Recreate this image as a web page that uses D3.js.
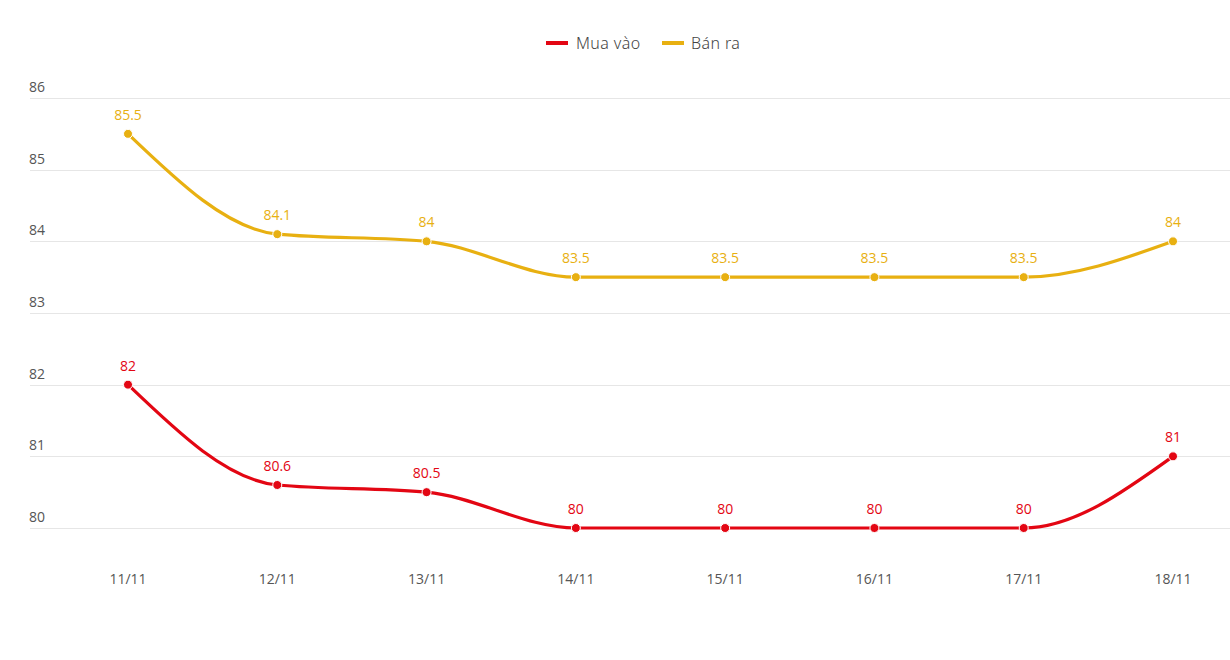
<!DOCTYPE html>
<html><head><meta charset="utf-8">
<script src="https://cdn.jsdelivr.net/npm/d3@7"></script>
<style>body{margin:0;background:#fff}svg{display:block}</style>
</head><body>
<svg id="c" width="1230" height="660"></svg>
<script>
const categories = ["11/11","12/11","13/11","14/11","15/11","16/11","17/11","18/11"];
const muaVao = [82, 80.6, 80.5, 80, 80, 80, 80, 81];
const banRa = [85.5, 84.1, 84, 83.5, 83.5, 83.5, 83.5, 84];
const yTicks = [80, 81, 82, 83, 84, 85, 86];
const seriesNames = ["Mua vào", "Bán ra"];
const colors = ["#e30613", "#e8b011"];

const svg = d3.select("#c");
const x = d3.scalePoint().domain(categories).range([128, 1173]);
const y = d3.scaleLinear().domain([80, 86]).range([528, 98]);
const font = "'Open Sans', sans-serif";

// gridlines + y labels
const g = svg.append("g");
g.selectAll("line").data(yTicks).join("line")
  .attr("x1", 30).attr("x2", 1230)
  .attr("y1", d => Math.round(y(d)) + 0.5).attr("y2", d => Math.round(y(d)) + 0.5)
  .attr("stroke", "#e6e6e6").attr("stroke-width", 1);
g.selectAll("text").data(yTicks).join("text")
  .attr("x", 29).attr("y", d => y(d) - 6)
  .attr("font-family", font).attr("font-size", 14).attr("fill", "#555")
  .text(d => d);

// x labels
svg.append("g").selectAll("text").data(categories).join("text")
  .attr("x", d => x(d)).attr("y", 584).attr("text-anchor", "middle")
  .attr("font-family", font).attr("font-size", 14).attr("fill", "#555")
  .text(d => d);

const line = d3.line().x((d, i) => x(categories[i])).y(d => y(d)).curve(d3.curveMonotoneX);

[muaVao, banRa].forEach((data, si) => {
  const s = svg.append("g");
  s.append("path").datum(data).attr("d", line)
    .attr("fill", "none").attr("stroke", colors[si]).attr("stroke-width", 3.2)
    .attr("stroke-linecap", "round");
  s.selectAll("circle").data(data).join("circle")
    .attr("cx", (d, i) => x(categories[i])).attr("cy", d => y(d)).attr("r", 4.5)
    .attr("fill", colors[si]).attr("stroke", "#fff").attr("stroke-width", 1);
  s.selectAll("text").data(data).join("text")
    .attr("x", (d, i) => x(categories[i])).attr("y", d => y(d) - 14)
    .attr("text-anchor", "middle")
    .attr("font-family", font).attr("font-size", 14).attr("fill", colors[si])
    .text(d => d);
});

// legend
const legendItems = [{x: 546, tx: 576}, {x: 662, tx: 691}];
const lg = svg.append("g");
seriesNames.forEach((n, i) => {
  lg.append("line").attr("x1", legendItems[i].x).attr("x2", legendItems[i].x + 22)
    .attr("y1", 43).attr("y2", 43).attr("stroke", colors[i]).attr("stroke-width", 4);
  lg.append("text").attr("x", legendItems[i].tx).attr("y", 49)
    .attr("font-family", "'Noto Sans', sans-serif").attr("font-size", 16).attr("font-weight", 300)
    .attr("letter-spacing", 0.4).attr("fill", "#444")
    .text(n);
});
</script>
</body></html>
